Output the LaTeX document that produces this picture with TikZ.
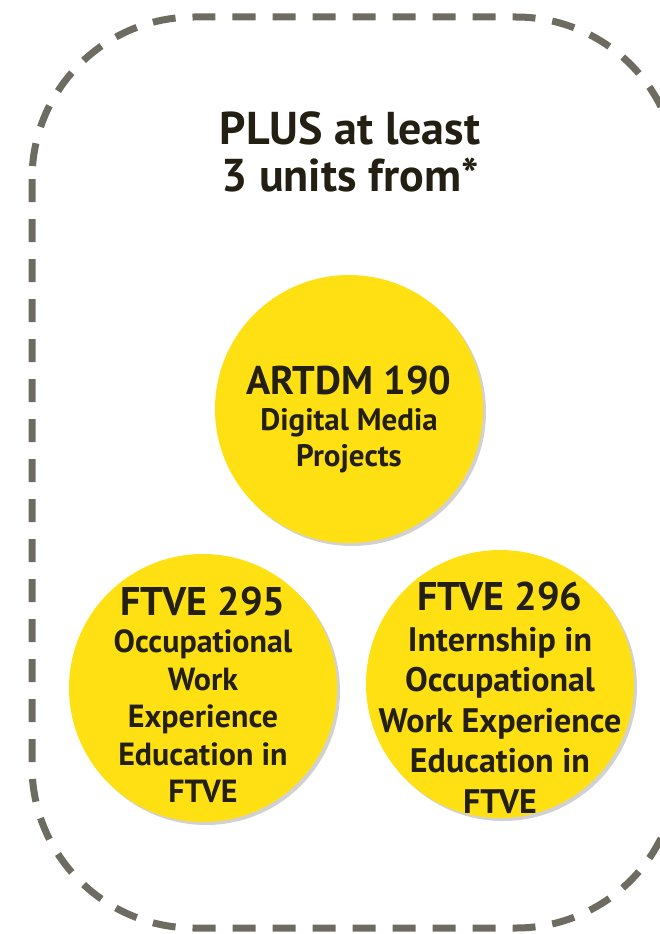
\documentclass[tikz,border=0pt]{standalone}
\usepackage{fontspec}
\setmainfont{PT Sans}
\usetikzlibrary{positioning, shadows}

\definecolor{dashgray}{RGB}{110,108,96}
\definecolor{discyellow}{RGB}{255,224,18}
\definecolor{inkdark}{RGB}{35,31,18}

\newcommand{\coursehead}[1]{{\fontsize{40}{40}\selectfont #1}}

\begin{document}
\begin{tikzpicture}[
    x=1pt, y=-1pt,
    frame/.style={draw=dashgray, line width=7pt,
                  dash pattern=on 23pt off 17pt, rounded corners=162pt},
    disc/.style={circle, fill=discyellow, minimum size=268pt, inner sep=0pt,
                 drop shadow={shadow xshift=3pt, shadow yshift=-3pt,
                              opacity=.18, fill=black}},
    course/.style={align=center, text=inkdark, inner sep=0pt,
                   font=\bfseries\fontsize{32}{37.5}\selectfont},
    heading/.style={align=center, text=inkdark,
                    font=\bfseries\fontsize{46}{47}\selectfont},
    node distance=146pt, on grid
  ]
  \useasboundingbox (0,0) rectangle (660,934);
  \draw[frame] (32,17) rectangle (678,928);

  \node[heading] (title) at (350,152) {PLUS at least\\3 units from*};

  % the three course discs
  \node[disc] (artdm) at (349,409) {};
  \node[disc, below left=279pt and 146pt of artdm] (ftve295) {};
  \node[disc, below right=275pt and 151pt of artdm] (ftve296) {};

  \node[course, font=\bfseries\fontsize{31}{36}\selectfont,
        below=10pt of artdm] (artdm-txt)
    {\coursehead{ARTDM 190}\\Digital Media\\Projects};
  \node[course, below=7pt of ftve295] (ftve295-txt)
    {\coursehead{FTVE 295}\\Occupational\\Work\\Experience\\Education in\\FTVE};
  \node[course, font=\bfseries\fontsize{34}{40.5}\selectfont,
        below=14pt of ftve296] (ftve296-txt)
    {\coursehead{FTVE 296}\\Internship in\\Occupational\\Work Experience\\Education in\\FTVE};
\end{tikzpicture}
\end{document}
